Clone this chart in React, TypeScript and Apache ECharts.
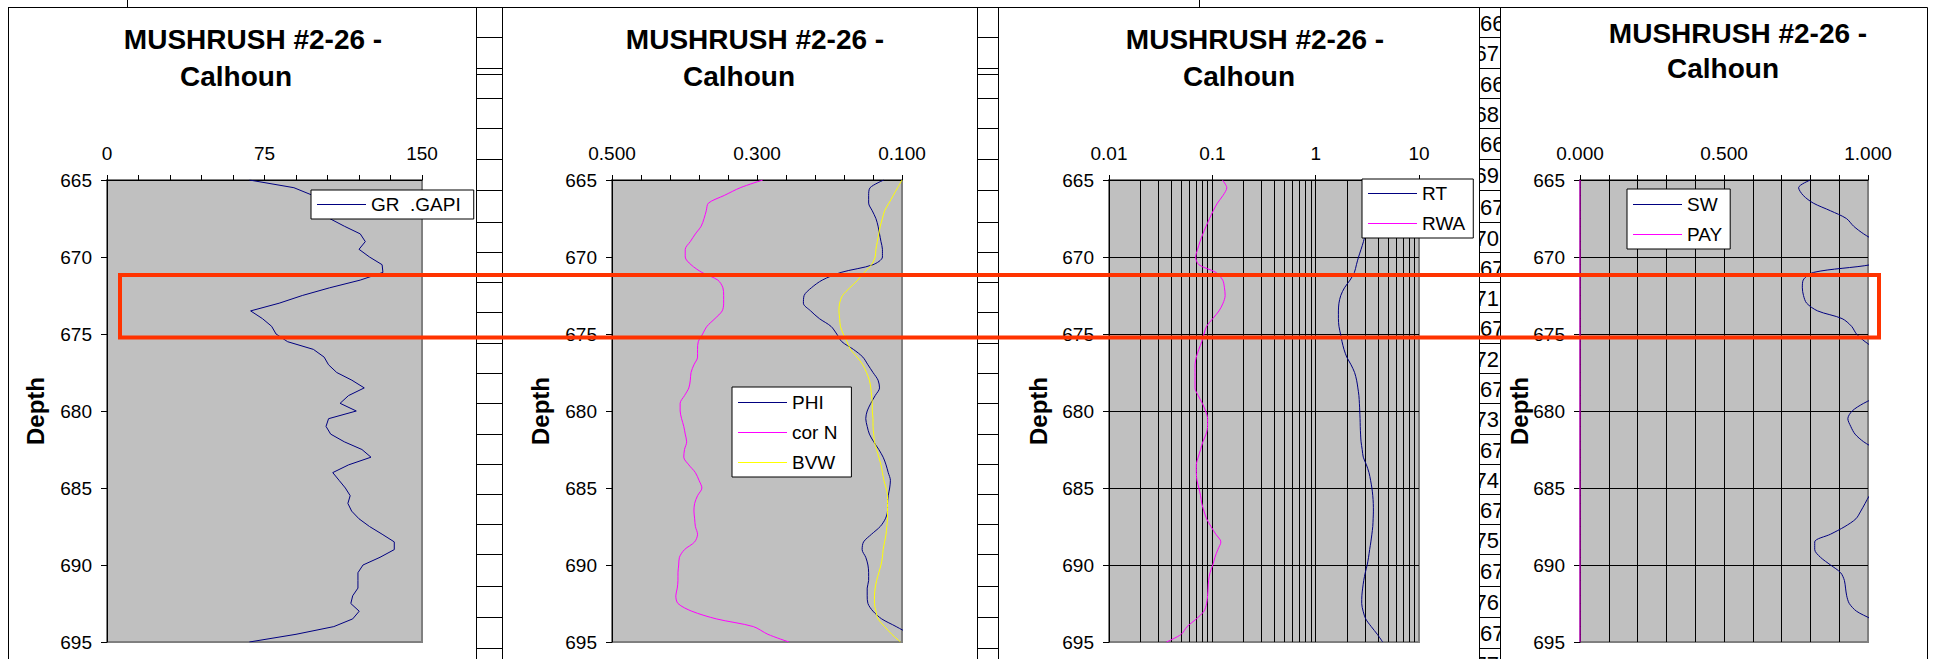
import React, { useEffect, useRef } from "react";
import * as echarts from "echarts";

const FONT = "'Liberation Sans', Arial, Helvetica, sans-serif";

// ---------------- data ----------------
const DEPTH = [665, 665.5, 666, 666.5, 667, 667.5, 668, 668.5, 669, 669.5, 670, 670.5, 671, 671.5, 672, 672.5, 673, 673.5, 674, 674.5, 675, 675.5, 676, 676.5, 677, 677.5, 678, 678.5, 679, 679.5, 680, 680.5, 681, 681.5, 682, 682.5, 683, 683.5, 684, 684.5, 685, 685.5, 686, 686.5, 687, 687.5, 688, 688.5, 689, 689.5, 690, 690.5, 691, 691.5, 692, 692.5, 693, 693.5, 694, 694.5, 695];

const GR = [67.8, 89, 98, 101, 103, 106, 113, 120.6, 123, 120, 125, 131, 131.4, 120.6, 106, 93, 82, 68.4, 74, 78.4, 80.5, 86, 98.3, 103.4, 105.5, 109.4, 116.6, 122.5, 115, 111, 118.7, 105.5, 104.3, 106.5, 113, 121.4, 125.7, 115, 107.5, 110.5, 113.5, 115.8, 114.7, 116.5, 120, 125, 131, 136.8, 136.8, 130, 121.9, 119.5, 119.5, 119.5, 117, 116.1, 120.1, 117, 108, 90, 67.8];

const PHI = [0.125, 0.144, 0.146, 0.146, 0.141, 0.136, 0.133, 0.131, 0.129, 0.127, 0.127, 0.140, 0.184, 0.210, 0.225, 0.235, 0.236, 0.226, 0.214, 0.198, 0.190, 0.183, 0.167, 0.154, 0.147, 0.140, 0.133, 0.131, 0.137, 0.143, 0.148, 0.150, 0.148, 0.145, 0.139, 0.132, 0.126, 0.122, 0.119, 0.116, 0.117, 0.119, 0.120, 0.120, 0.123, 0.130, 0.142, 0.153, 0.155, 0.150, 0.147, 0.146, 0.146, 0.148, 0.148, 0.147, 0.140, 0.128, 0.108, 0.090, 0.080];

const COR_N = [0.292, 0.323, 0.345, 0.367, 0.370, 0.373, 0.377, 0.385, 0.392, 0.399, 0.399, 0.391, 0.376, 0.354, 0.347, 0.346, 0.346, 0.348, 0.358, 0.369, 0.375, 0.381, 0.382, 0.382, 0.387, 0.391, 0.392, 0.394, 0.400, 0.406, 0.406, 0.404, 0.401, 0.399, 0.397, 0.400, 0.401, 0.394, 0.385, 0.380, 0.376, 0.382, 0.386, 0.387, 0.386, 0.385, 0.382, 0.386, 0.400, 0.407, 0.408, 0.409, 0.409, 0.410, 0.412, 0.409, 0.390, 0.356, 0.305, 0.285, 0.256];

const BVW = [0.100, 0.106, 0.112, 0.118, 0.124, 0.127, 0.130, 0.132, 0.134, 0.136, 0.137, 0.142, 0.152, 0.161, 0.172, 0.182, 0.186, 0.187, 0.186, 0.185, 0.181, 0.176, 0.171, 0.162, 0.154, 0.149, 0.145, 0.143, 0.142, 0.141, 0.141, 0.140, 0.140, 0.139, 0.138, 0.135, 0.132, 0.129, 0.127, 0.125, 0.122, 0.120, 0.120, 0.120, 0.120, 0.121, 0.122, 0.124, 0.126, 0.127, 0.129, 0.132, 0.135, 0.137, 0.138, 0.138, 0.136, 0.133, 0.124, 0.114, 0.102];

const RT = [3.3, 3.3, 3.2, 3.2, 3.1, 3.1, 3.0, 3.0, 2.9, 2.75, 2.6, 2.48, 2.37, 2.15, 1.9, 1.75, 1.68, 1.66, 1.66, 1.68, 1.74, 1.80, 1.88, 2.00, 2.2, 2.38, 2.49, 2.56, 2.62, 2.65, 2.67, 2.69, 2.70, 2.72, 2.75, 2.82, 2.89, 3.10, 3.28, 3.40, 3.50, 3.57, 3.61, 3.62, 3.60, 3.57, 3.50, 3.42, 3.33, 3.25, 3.15, 3.02, 2.92, 2.85, 2.80, 2.79, 2.88, 3.05, 3.45, 3.95, 4.45];

const RWA = [0.125, 0.138, 0.127, 0.112, 0.102, 0.094, 0.087, 0.081, 0.076, 0.072, 0.069, 0.074, 0.108, 0.126, 0.131, 0.133, 0.127, 0.116, 0.101, 0.088, 0.083, 0.079, 0.074, 0.070, 0.068, 0.068, 0.068, 0.068, 0.073, 0.080, 0.086, 0.090, 0.090, 0.087, 0.081, 0.077, 0.073, 0.070, 0.070, 0.071, 0.074, 0.077, 0.079, 0.083, 0.088, 0.097, 0.108, 0.121, 0.113, 0.106, 0.101, 0.095, 0.092, 0.091, 0.090, 0.088, 0.083, 0.070, 0.057, 0.050, 0.036];

const SW = [0.80, 0.759, 0.775, 0.81, 0.87, 0.925, 0.95, 0.985, 1.03, 1.08, 1.1, 1.01, 0.811, 0.775, 0.772, 0.776, 0.787, 0.825, 0.91, 0.943, 0.96, 0.99, 1.03, 1.08, 1.1, 1.1, 1.1, 1.08, 1.04, 0.985, 0.945, 0.930, 0.94, 0.955, 0.985, 1.03, 1.08, 1.1, 1.1, 1.07, 1.03, 1.005, 0.99, 0.975, 0.958, 0.92, 0.87, 0.815, 0.815, 0.835, 0.87, 0.905, 0.918, 0.922, 0.926, 0.935, 0.96, 1.01, 1.05, 1.08, 1.1];

const PAY = [0, 0, 0, 0, 0, 0, 0, 0, 0, 0, 0, 0, 0, 0, 0, 0, 0, 0, 0, 0, 0, 0, 0, 0, 0, 0, 0, 0, 0, 0, 0, 0, 0, 0, 0, 0, 0, 0, 0, 0, 0, 0, 0, 0, 0, 0, 0, 0, 0, 0, 0, 0, 0, 0, 0, 0, 0, 0, 0, 0, 0];

const TITLE_1 = "MUSHRUSH #2-26 -";
const TITLE_2 = "Calhoun";
const DEPTH_NAME = "Depth";

const GR_TICKS = [0, 15, 30, 45, 60, 75, 90, 105, 120, 135, 150];
const GR_LABELS = [0, 75, 150];
const POR_TICKS = [0.1, 0.14, 0.18, 0.22, 0.26, 0.3, 0.34, 0.38, 0.42, 0.46, 0.5];
const POR_LABELS = [0.1, 0.3, 0.5];
const RES_TICKS = [0.01, 0.1, 1, 10];
const RES_GRID = [0.01, 0.02, 0.03, 0.04, 0.05, 0.06, 0.07, 0.08, 0.09, 0.1, 0.2, 0.3, 0.4, 0.5, 0.6, 0.7, 0.8, 0.9, 1, 2, 3, 4, 5, 6, 7, 8, 9, 10];
const SW_TICKS = [0, 0.1, 0.2, 0.3, 0.4, 0.5, 0.6, 0.7, 0.8, 0.9, 1];
const SW_LABELS = [0, 0.5, 1];

const CELL_LABELS = ["66", "67", "66", "68", "66", "69", "67", "70", "67", "71", "67", "72", "67", "73", "67", "74", "67", "75", "67", "76", "67", "77"];

// ---------------- layout ----------------
const GRIDS = [
  { left: 107, top: 180, width: 315, height: 462 },
  { left: 612, top: 180, width: 290, height: 462 },
  { left: 1109, top: 180, width: 310, height: 462 },
  { left: 1580, top: 180, width: 288, height: 462 },
];
const FRAMES = [[8, 476], [502, 977], [998, 1479], [1500, 1927]];
const COLUMNS = [[476, 502, true], [977, 998, true], [1479, 1500, false]];
const ROW_LINES = [37, 68, 98, 128, 159, 190, 222, 252, 282, 312, 343, 373, 403, 434, 464, 494, 524, 554, 586, 617, 648];
const TITLES = [
  { x1: 253, x2: 236, y1: 39, y2: 76 },
  { x1: 755, x2: 739, y1: 39, y2: 76 },
  { x1: 1255, x2: 1239, y1: 39, y2: 76 },
  { x1: 1738, x2: 1723, y1: 33, y2: 68 },
];
const DEPTH_LABEL_X = [35, 540, 1038, 1519];

function pairs(values: number[]) {
  return DEPTH.map((d, i) => [values[i], d]);
}

function topAxis(gridIndex: number, type: string, min: number, max: number, ticks: number[], labels: number[], fmt: (v: number) => string, inverse: boolean, split: boolean) {
  const ax: any = {
    gridIndex,
    type,
    min,
    max,
    inverse,
    position: "top",
    axisLine: { show: true, onZero: false, lineStyle: { color: "#000", width: 1 } },
    axisTick: { show: true, inside: false, length: 5, customValues: ticks, lineStyle: { color: "#000", width: 1 } },
    axisLabel: { show: true, customValues: labels, formatter: fmt, fontSize: 19, color: "#000", fontFamily: FONT, margin: 17 },
    splitLine: { show: split, showMinLine: false, showMaxLine: false, lineStyle: { color: "#000", width: 1 } },
  };
  if (type === "log") ax.logBase = 10;
  return ax;
}

function depthAxis(gridIndex: number, split: boolean) {
  return {
    gridIndex,
    type: "value",
    inverse: true,
    min: 665,
    max: 695,
    interval: 5,
    position: "left",
    axisLine: { show: true, onZero: false, lineStyle: { color: "#000", width: 1 } },
    axisTick: { show: true, inside: false, length: 6, lineStyle: { color: "#000", width: 1 } },
    axisLabel: { fontSize: 19, color: "#000", fontFamily: FONT, margin: 15 },
    splitLine: { show: split, showMinLine: false, showMaxLine: false, lineStyle: { color: "#000", width: 1 } },
  };
}

function lineSeries(name: string, values: number[], color: string, xi: number, yi: number, smooth: number | boolean) {
  return {
    type: "line",
    name,
    xAxisIndex: xi,
    yAxisIndex: yi,
    data: pairs(values),
    symbol: "none",
    showSymbol: false,
    smooth,
    clip: true,
    lineStyle: { color, width: 1 },
    itemStyle: { color },
    z: 3,
  };
}

function legendBox(names: string[], left: number, top: number, padding: number[]) {
  return {
    show: true,
    data: names,
    left,
    top,
    orient: "vertical",
    padding,
    icon: "rect",
    itemWidth: 49,
    itemHeight: 1.2,
    itemGap: 9,
    backgroundColor: "#fff",
    borderColor: "#000",
    borderWidth: 1,
    borderRadius: 0,
    selectedMode: false,
    textStyle: { fontSize: 19, color: "#000", fontFamily: FONT, lineHeight: 21 },
  };
}

export default function App() {
  const ref = useRef<HTMLDivElement>(null);

  useEffect(() => {
    if (!ref.current) return;
    const chart = echarts.init(ref.current, null, { renderer: "svg" });

    const fmt3 = (v: number) => Number(v).toFixed(3);
    const fmtInt = (v: number) => String(Math.round(v));
    const fmtLog = (v: number) => String(Number(Number(v).toPrecision(6)));

    const graphics: any[] = [];
    // cell texts behind frames
    CELL_LABELS.forEach((t, i) => {
      const top = i === 0 ? 7 : ROW_LINES[i - 1];
      const bottom = i < ROW_LINES.length ? ROW_LINES[i] : 678;
      const leftAligned = i % 2 === 0;
      graphics.push({
        type: "text",
        z: -30,
        silent: true,
        x: leftAligned ? 1480 : 1499,
        y: (top + bottom) / 2 + 1,
        style: { text: t, fontSize: 22, fontFamily: FONT, fill: "#000", align: leftAligned ? "left" : "right", verticalAlign: "middle" },
      });
    });
    // panel frames
    FRAMES.forEach(([x0, x1]) => {
      graphics.push({
        type: "rect",
        z: -20,
        silent: true,
        shape: { x: x0 + 0.5, y: 7.5, width: x1 - x0, height: 700 },
        style: { fill: "#fff", stroke: "#000", lineWidth: 1 },
      });
    });
    // top rule and short separators
    graphics.push({ type: "line", z: -10, silent: true, shape: { x1: 8, y1: 7.5, x2: 1927, y2: 7.5 }, style: { stroke: "#000", lineWidth: 1 } });
    graphics.push({ type: "line", z: -10, silent: true, shape: { x1: 127.5, y1: 0, x2: 127.5, y2: 7 }, style: { stroke: "#000", lineWidth: 1 } });
    graphics.push({ type: "line", z: -10, silent: true, shape: { x1: 1199.5, y1: 0, x2: 1199.5, y2: 7 }, style: { stroke: "#000", lineWidth: 1 } });
    // spreadsheet columns
    COLUMNS.forEach(([x0, x1, extra]: any) => {
      const ys = extra ? [...ROW_LINES, 74] : ROW_LINES;
      ys.forEach((y: number) => {
        graphics.push({ type: "line", z: -10, silent: true, shape: { x1: x0, y1: y + 0.5, x2: x1, y2: y + 0.5 }, style: { stroke: "#000", lineWidth: 1 } });
      });
    });
    // titles and depth names
    TITLES.forEach((t) => {
      graphics.push({ type: "text", z: 10, silent: true, x: t.x1, y: t.y1, style: { text: TITLE_1, fontSize: 28, fontWeight: "bold", fontFamily: FONT, fill: "#000", align: "center", verticalAlign: "middle" } });
      graphics.push({ type: "text", z: 10, silent: true, x: t.x2, y: t.y2, style: { text: TITLE_2, fontSize: 28, fontWeight: "bold", fontFamily: FONT, fill: "#000", align: "center", verticalAlign: "middle" } });
    });
    DEPTH_LABEL_X.forEach((x) => {
      graphics.push({ type: "text", z: 10, silent: true, x, y: 411, rotation: Math.PI / 2, style: { text: DEPTH_NAME, fontSize: 24, fontWeight: "bold", fontFamily: FONT, fill: "#000", align: "center", verticalAlign: "middle" } });
    });
    // highlight rectangle
    graphics.push({
      type: "rect",
      z: 100,
      silent: true,
      shape: { x: 120, y: 275, width: 1759, height: 62.5 },
      style: { fill: "none", stroke: "#FF3300", lineWidth: 4 },
    });

    const option: any = {
      animation: false,
      backgroundColor: "#fff",
      textStyle: { fontFamily: FONT },
      grid: GRIDS.map((g) => ({ ...g, show: true, backgroundColor: "#C0C0C0", borderColor: "#808080", borderWidth: 2, containLabel: false })),
      xAxis: [
        topAxis(0, "value", 0, 150, GR_TICKS, GR_LABELS, fmtInt, false, false),
        topAxis(1, "value", 0.1, 0.5, POR_TICKS, POR_LABELS, fmt3, true, false),
        topAxis(2, "log", 0.01, 10, RES_TICKS, RES_TICKS, fmtLog, false, false),
        topAxis(3, "value", 0, 1, SW_TICKS, SW_LABELS, fmt3, false, true),
        {
          gridIndex: 2,
          type: "log",
          logBase: 10,
          min: 0.01,
          max: 10,
          position: "top",
          axisLine: { show: false },
          axisTick: { show: false, customValues: RES_GRID },
          axisLabel: { show: false },
          splitLine: { show: true, showMinLine: false, showMaxLine: false, lineStyle: { color: "#000", width: 1 } },
        },
      ],
      yAxis: [depthAxis(0, false), depthAxis(1, false), depthAxis(2, true), depthAxis(3, true)],
      legend: [
        legendBox(["GR  .GAPI"], 311, 190, [4, 13, 4, 6]),
        legendBox(["PHI", "cor N", "BVW"], 732, 387, [5, 14, 4, 6]),
        legendBox(["RT", "RWA"], 1362, 179, [4, 8, 4, 6]),
        legendBox(["SW", "PAY"], 1627, 189, [5, 8, 4, 6]),
      ],
      series: [
        lineSeries("GR  .GAPI", GR, "#000080", 0, 0, false),
        lineSeries("PHI", PHI, "#000080", 1, 1, 0.3),
        lineSeries("cor N", COR_N, "#FF00FF", 1, 1, 0.3),
        lineSeries("BVW", BVW, "#FFFF00", 1, 1, 0.3),
        lineSeries("RT", RT, "#000080", 2, 2, 0.3),
        lineSeries("RWA", RWA, "#FF00FF", 2, 2, 0.3),
        lineSeries("SW", SW, "#000080", 3, 3, 0.3),
        lineSeries("PAY", PAY, "#FF00FF", 3, 3, false),
      ],
      graphic: { elements: graphics },
    };

    chart.setOption(option);
    return () => chart.dispose();
  }, []);

  return (
    <div
      ref={ref}
      style={{ position: "absolute", left: 0, top: 0, width: 1937, height: 659, background: "#fff" }}
    />
  );
}
